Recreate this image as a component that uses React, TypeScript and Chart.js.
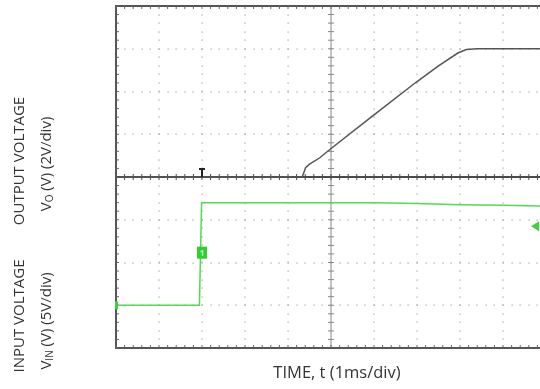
import React, { useEffect, useRef } from "react";
import { Chart, registerables } from "chart.js";

Chart.register(...registerables);

// Time in divisions (1 ms/div), voltage in divisions
const outputTime = [0, 4.33, 4.41, 4.5, 4.74, 4.98, 5.97, 6.97, 7.5, 7.95, 8.15, 8.4, 9.86];
const outputDiv = [0, 0, 0.22, 0.3, 0.45, 0.65, 1.43, 2.21, 2.6, 2.9, 2.98, 3.0, 3.0];
const inputTime = [0, 1.94, 1.99, 3, 4, 5, 6, 7, 8, 9, 9.86];
const inputDiv = [-3, -3, -0.6, -0.6, -0.6, -0.6, -0.6, -0.62, -0.65, -0.66, -0.68];

const xGridDivs = [1, 2, 3, 4, 6, 7, 8, 9];
const yGridDivs = [-3, -2, -1, 1, 2, 3];
const xCenter = 5;
const yCenter = 0;
const xMin = 0;
const xMax = 9.86;
const yMin = -4;
const yMax = 4;

const triggerTime = 2;
const outputRef = 0;
const inputRef = -1.77;
const inputGround = -3;
const triggerLevel = -1.15;

const xTitle = "TIME, t (1ms/div)";

const FONT = "'Open Sans', 'Noto Sans', sans-serif";
const GREEN = "#55d955";

const graticule = {
  id: "graticule",
  beforeDatasetsDraw(chart: any) {
    const { ctx, chartArea, scales } = chart;
    const x = scales.x;
    const y = scales.y;
    ctx.save();
    ctx.fillStyle = "#a0a0a0";
    for (const xv of xGridDivs) {
      const px = Math.round(x.getPixelForValue(xv));
      for (let t = yMin; t <= yMax + 1e-6; t += 0.2) {
        const py = Math.round(y.getPixelForValue(t));
        ctx.fillRect(px - 0.5, py - 0.5, 1.2, 1.2);
      }
    }
    for (const yv of yGridDivs) {
      const py = Math.round(y.getPixelForValue(yv));
      for (let t = xMin; t <= xMax + 1e-6; t += 0.2) {
        const px = Math.round(x.getPixelForValue(t));
        ctx.fillRect(px - 0.5, py - 0.5, 1.2, 1.2);
      }
    }
    ctx.strokeStyle = "#888";
    ctx.lineWidth = 1;
    const cx = x.getPixelForValue(xCenter);
    ctx.beginPath();
    ctx.moveTo(cx, chartArea.top);
    ctx.lineTo(cx, chartArea.bottom);
    for (let t = yMin; t <= yMax + 1e-6; t += 0.2) {
      const py = y.getPixelForValue(t);
      ctx.moveTo(cx - 3, py);
      ctx.lineTo(cx + 3, py);
    }
    ctx.stroke();
    ctx.strokeStyle = "#4a4a4a";
    ctx.lineWidth = 1.8;
    const cy = y.getPixelForValue(yCenter);
    ctx.beginPath();
    ctx.moveTo(chartArea.left, cy);
    ctx.lineTo(chartArea.right, cy);
    ctx.stroke();
    ctx.lineWidth = 1;
    ctx.beginPath();
    for (let t = xMin; t <= xMax + 1e-6; t += 0.2) {
      const px = x.getPixelForValue(t);
      ctx.moveTo(px, cy - 3);
      ctx.lineTo(px, cy + 3);
    }
    ctx.stroke();
    ctx.strokeStyle = "#555";
    ctx.lineWidth = 2;
    ctx.beginPath();
    ctx.moveTo(chartArea.right, chartArea.top);
    ctx.lineTo(chartArea.left, chartArea.top);
    ctx.lineTo(chartArea.left, chartArea.bottom);
    ctx.lineTo(chartArea.right, chartArea.bottom);
    ctx.stroke();
    ctx.lineWidth = 1;
    ctx.strokeStyle = "#666";
    ctx.beginPath();
    for (let t = xMin; t <= xMax + 1e-6; t += 0.2) {
      const px = x.getPixelForValue(t);
      ctx.moveTo(px, chartArea.top);
      ctx.lineTo(px, chartArea.top + 3);
      ctx.moveTo(px, chartArea.bottom);
      ctx.lineTo(px, chartArea.bottom - 3);
    }
    for (let t = yMin; t <= yMax + 1e-6; t += 0.2) {
      const py = y.getPixelForValue(t);
      ctx.moveTo(chartArea.left, py);
      ctx.lineTo(chartArea.left + 3, py);
    }
    ctx.stroke();
    ctx.restore();
  },
  afterDatasetsDraw(chart: any) {
    const { ctx, chartArea, scales } = chart;
    const x = scales.x;
    const y = scales.y;
    ctx.save();
    const tx = x.getPixelForValue(triggerTime);
    const ty = y.getPixelForValue(outputRef);
    ctx.strokeStyle = "#222";
    ctx.lineWidth = 2;
    ctx.beginPath();
    ctx.moveTo(tx - 3, ty - 8);
    ctx.lineTo(tx + 3, ty - 8);
    ctx.moveTo(tx, ty - 8);
    ctx.lineTo(tx, ty);
    ctx.stroke();
    const by = y.getPixelForValue(inputRef);
    ctx.fillStyle = "#2fcf2f";
    ctx.fillRect(tx - 5, by - 6, 10, 12);
    ctx.fillStyle = "#b8f5b8";
    ctx.font = `bold 9px ${FONT}`;
    ctx.textAlign = "center";
    ctx.textBaseline = "middle";
    ctx.fillText("1", tx, by + 0.5);
    const gy = y.getPixelForValue(inputGround);
    ctx.fillStyle = "#3fd23f";
    ctx.fillRect(chartArea.left - 1, gy - 4, 3, 8);
    const ay = y.getPixelForValue(triggerLevel);
    const ax = chartArea.right - 4;
    ctx.beginPath();
    ctx.moveTo(ax - 5, ay);
    ctx.lineTo(ax + 3, ay - 5);
    ctx.lineTo(ax + 3, ay + 5);
    ctx.closePath();
    ctx.fill();
    ctx.restore();
  },
  afterDraw(chart: any) {
    const { ctx } = chart;
    ctx.save();
    ctx.fillStyle = "#333";
    ctx.textBaseline = "middle";
    ctx.font = `16.5px ${FONT}`;
    ctx.textAlign = "center";
    ctx.fillText(xTitle, 337, 373);

    const rotated = (cx: number, cy: number, parts: [string, boolean][]) => {
      ctx.save();
      ctx.translate(cx, cy);
      ctx.rotate(-Math.PI / 2);
      const big = `15px ${FONT}`;
      const small = `10px ${FONT}`;
      let total = 0;
      for (const [s, sub] of parts) {
        ctx.font = sub ? small : big;
        total += ctx.measureText(s).width;
      }
      let pos = -total / 2;
      ctx.textAlign = "left";
      for (const [s, sub] of parts) {
        ctx.font = sub ? small : big;
        ctx.fillText(s, pos, sub ? 3.5 : 0);
        pos += ctx.measureText(s).width;
      }
      ctx.restore();
    };
    rotated(20, 161, [["OUTPUT VOLTAGE", false]]);
    rotated(47, 164, [["V", false], ["O", true], [" (V) (2V/div)", false]]);
    rotated(20, 316, [["INPUT VOLTAGE", false]]);
    rotated(47, 321, [["V", false], ["IN", true], [" (V) (5V/div)", false]]);
    ctx.restore();
  },
};

export default function App() {
  const canvasRef = useRef<HTMLCanvasElement | null>(null);
  useEffect(() => {
    if (!canvasRef.current) return;
    const chart = new Chart(canvasRef.current, {
      type: "scatter",
      data: {
        datasets: [
          {
            label: "Output voltage",
            data: outputTime.map((t, i) => ({ x: t, y: outputDiv[i] })),
            showLine: true,
            borderColor: "#555",
            borderWidth: 1.5,
            pointRadius: 0,
            tension: 0,
          },
          {
            label: "Input voltage",
            data: inputTime.map((t, i) => ({ x: t, y: inputDiv[i] })),
            showLine: true,
            borderColor: GREEN,
            borderWidth: 1.5,
            pointRadius: 0,
            tension: 0,
          },
        ],
      },
      options: {
        animation: false,
        responsive: false,
        maintainAspectRatio: false,
        layout: { padding: { left: 116, top: 6, right: 0, bottom: 41 } },
        plugins: { legend: { display: false }, tooltip: { enabled: false }, title: { display: false } },
        scales: {
          x: { type: "linear", min: xMin, max: xMax, display: false },
          y: { type: "linear", min: yMin, max: yMax, display: false },
        },
      },
      plugins: [graticule],
    });
    return () => chart.destroy();
  }, []);
  return (
    <div style={{ position: "absolute", left: 0, top: 0, width: 540, height: 389, background: "#fff" }}>
      <canvas ref={canvasRef} width={540} height={389} style={{ display: "block" }} />
    </div>
  );
}
